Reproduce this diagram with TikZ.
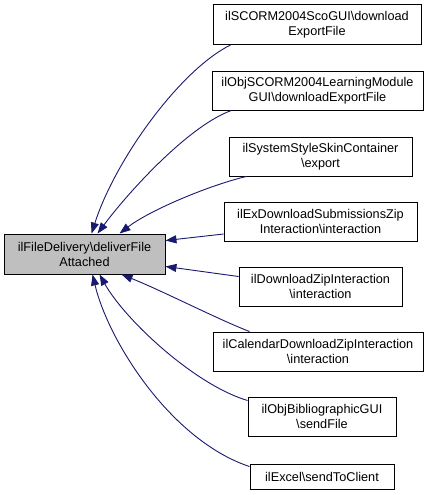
\documentclass[tikz,border=0pt]{standalone}
\usepackage{fontspec}
\setmainfont{Liberation Sans}
\usetikzlibrary{arrows.meta,calc}
\definecolor{edgeblue}{HTML}{191970}
\definecolor{mainfill}{HTML}{BFBFBF}
\tikzset{
  box/.style={draw=black, line width=0.9pt, fill=white, inner sep=0pt, align=center,
    font=\fontsize{12.7}{15}\selectfont, text=black},
  mainbox/.style={box, fill=mainfill},
  edge/.style={draw=edgeblue, line width=0.9pt, -{Triangle[length=11pt,width=8pt]}},
}
\begin{document}
\begin{tikzpicture}[x=1pt,y=-1pt]
\useasboundingbox[fill=white] (0,0) rectangle (436,495);
\node[mainbox, minimum width=161pt, minimum height=40pt] (main) at (84.5,254) {ilFileDelivery\textbackslash deliverFile\\Attached};
\node[box, minimum width=208pt, minimum height=40pt] (n1) at (317,24.5) {ilSCORM2004ScoGUI\textbackslash download\\ExportFile};
\node[box, minimum width=211pt, minimum height=39pt] (n2) at (317.5,90.5) {ilObjSCORM2004LearningModule\\GUI\textbackslash downloadExportFile};
\node[box, minimum width=183pt, minimum height=39pt] (n3) at (320.5,156.5) {ilSystemStyleSkinContainer\\\textbackslash export};
\node[box, minimum width=193pt, minimum height=39pt] (n4) at (320.5,221.5) {ilExDownloadSubmissionsZip\\Interaction\textbackslash interaction};
\node[box, minimum width=163pt, minimum height=39pt] (n5) at (320.5,286.5) {ilDownloadZipInteraction\\\textbackslash interaction};
\node[box, minimum width=210pt, minimum height=39pt] (n6) at (318,351.5) {ilCalendarDownloadZipInteraction\\\textbackslash interaction};
\node[box, minimum width=148pt, minimum height=39pt] (n7) at (322,416.5) {ilObjBibliographicGUI\\\textbackslash sendFile};
\node[box, minimum width=144pt, minimum height=25pt] (n8) at (322,476.5) {ilExcel\textbackslash sendToClient};

\draw[edge] ($(n1.south west)+(18,0)$) .. controls (180,70) and (115,160) .. ($(main.north west)+(88,0)$);
\draw[edge] ($(n2.south west)+(20,0)$) .. controls (190,125) and (130,190) .. ($(main.north west)+(94,0)$);
\draw[edge] ($(n3.south west)+(18,0)$) .. controls (210,185) and (150,210) .. ($(main.north west)+(116,0)$);
\draw[edge] ($(n4.west)+(0,12.5)$) -- ($(main.north east)+(0,7)$);
\draw[edge] ($(n5.west)+(0,-10)$) -- ($(main.south east)+(0,-8)$);
\draw[edge] ($(n6.north west)+(37,0)$) .. controls (215,318) and (165,292) .. ($(main.south west)+(118,0)$);
\draw[edge] ($(n7.west)+(0,-16)$) .. controls (195,385) and (125,320) .. ($(main.south west)+(96,0)$);
\draw[edge] ($(n8.north west)+(0,3)$) .. controls (170,440) and (108,340) .. ($(main.south west)+(89,0)$);
\end{tikzpicture}
\end{document}
